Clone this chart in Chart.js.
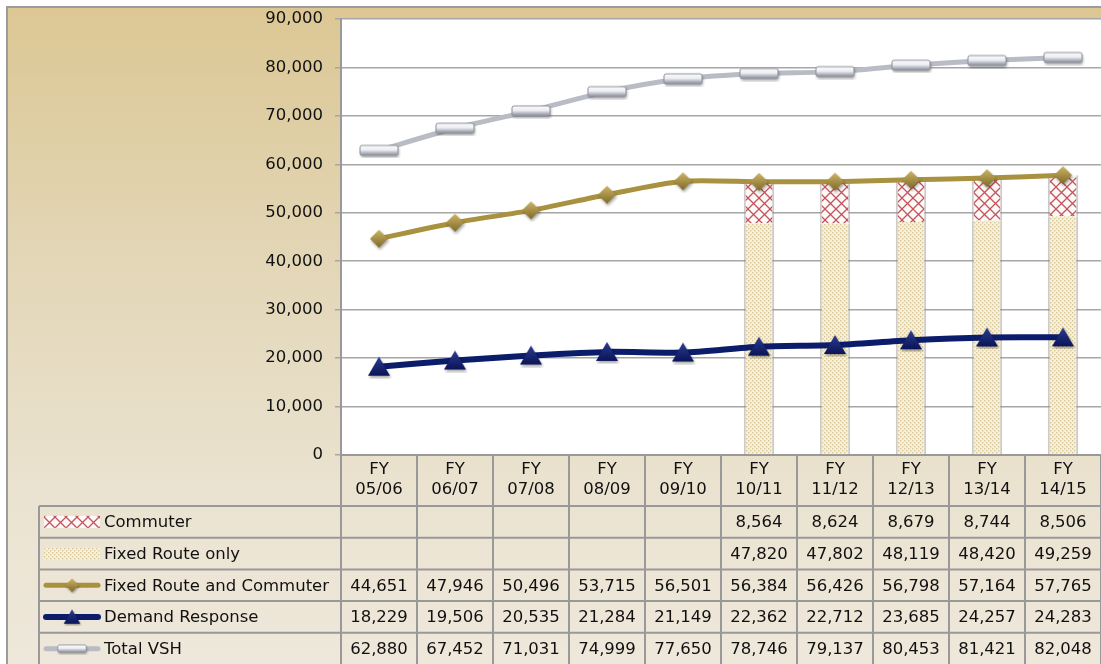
<!DOCTYPE html>
<html>
<head>
<meta charset="utf-8">
<title>Vehicle Service Hours</title>
<script src="https://cdn.jsdelivr.net/npm/chart.js@4.4.1/dist/chart.umd.min.js"></script>
<style>
  html, body { margin: 0; padding: 0; background: #fff; }
  #wrap { position: relative; width: 1101px; height: 664px; }
</style>
</head>
<body>
<div id="wrap"><canvas id="vshChart"></canvas></div>
<script>
const fiscalYears = [
  ["FY", "05/06"], ["FY", "06/07"], ["FY", "07/08"], ["FY", "08/09"], ["FY", "09/10"],
  ["FY", "10/11"], ["FY", "11/12"], ["FY", "12/13"], ["FY", "13/14"], ["FY", "14/15"]
];
const commuter = [null, null, null, null, null, 8564, 8624, 8679, 8744, 8506];
const fixedRouteOnly = [null, null, null, null, null, 47820, 47802, 48119, 48420, 49259];
const fixedRouteAndCommuter = [44651, 47946, 50496, 53715, 56501, 56384, 56426, 56798, 57164, 57765];
const demandResponse = [18229, 19506, 20535, 21284, 21149, 22362, 22712, 23685, 24257, 24283];
const totalVsh = [62880, 67452, 71031, 74999, 77650, 78746, 79137, 80453, 81421, 82048];
const yTickValues = [0, 10000, 20000, 30000, 40000, 50000, 60000, 70000, 80000, 90000];

const FONT = '"DejaVu Sans", sans-serif';
const FONT_SIZE = 16.5;
const fmt = v => v.toLocaleString("en-US");

// --- fill patterns for the stacked bars ---
function makeTile(w, h, paint) {
  const c = document.createElement("canvas");
  c.width = w; c.height = h;
  paint(c.getContext("2d"));
  return c;
}
const ctxMain = document.getElementById("vshChart").getContext("2d");

const hatchPattern = ctxMain.createPattern(makeTile(11, 11, g => {
  g.fillStyle = "#fdf9f9";
  g.fillRect(0, 0, 11, 11);
  g.strokeStyle = "#c2545a";
  g.lineWidth = 1.3;
  g.beginPath();
  g.moveTo(0, 0); g.lineTo(11, 11);
  g.moveTo(11, 0); g.lineTo(0, 11);
  g.stroke();
}), "repeat");

const dotPattern = ctxMain.createPattern(makeTile(4, 4, g => {
  g.fillStyle = "#f6f0de";
  g.fillRect(0, 0, 4, 4);
  g.fillStyle = "#d8c795";
  g.fillRect(0, 0, 1.4, 1.4);
  g.fillRect(2, 2, 1.4, 1.4);
}), "repeat");

// --- marker images for the lines ---
function shadowed(g) {
  g.shadowColor = "rgba(0,0,0,0.35)";
  g.shadowBlur = 3;
  g.shadowOffsetX = 1;
  g.shadowOffsetY = 2;
}
const dashMarker = makeTile(44, 16, g => {
  shadowed(g);
  const gr = g.createLinearGradient(0, 2, 0, 12);
  gr.addColorStop(0, "#ffffff");
  gr.addColorStop(0.55, "#eceef2");
  gr.addColorStop(1, "#959aa5");
  g.fillStyle = gr;
  g.beginPath();
  g.roundRect(3, 3, 38, 10, 2);
  g.fill();
  g.shadowColor = "transparent";
  g.strokeStyle = "#8e929b";
  g.lineWidth = 1;
  g.stroke();
});
const diamondMarker = makeTile(24, 24, g => {
  shadowed(g);
  const gr = g.createLinearGradient(0, 3, 0, 21);
  gr.addColorStop(0, "#cdb566");
  gr.addColorStop(1, "#7f6a28");
  g.fillStyle = gr;
  g.beginPath();
  g.moveTo(12, 3); g.lineTo(21, 12); g.lineTo(12, 21); g.lineTo(3, 12);
  g.closePath();
  g.fill();
});
const triangleMarker = makeTile(26, 24, g => {
  shadowed(g);
  const gr = g.createLinearGradient(0, 2, 0, 21);
  gr.addColorStop(0, "#2c3d8f");
  gr.addColorStop(1, "#0a1458");
  g.fillStyle = gr;
  g.beginPath();
  g.moveTo(13, 2); g.lineTo(24, 21); g.lineTo(2, 21);
  g.closePath();
  g.fill();
});

const tableRows = [
  { label: "Commuter", values: commuter, fill: hatchPattern },
  { label: "Fixed Route only", values: fixedRouteOnly, fill: dotPattern },
  { label: "Fixed Route and Commuter", values: fixedRouteAndCommuter, line: "#a8913f", width: 5, marker: diamondMarker },
  { label: "Demand Response", values: demandResponse, line: "#0b1c6b", width: 6, marker: triangleMarker },
  { label: "Total VSH", values: totalVsh, line: "#b9bcc5", width: 5, marker: dashMarker }
];

// panel background, frame and white plot area
const panelBackground = {
  id: "panelBackground",
  beforeDraw(chart) {
    const { ctx, width, height, chartArea } = chart;
    ctx.save();
    ctx.fillStyle = "#fff";
    ctx.fillRect(0, 0, width, height);
    const gr = ctx.createLinearGradient(0, 8, 0, height);
    gr.addColorStop(0, "#dcc794");
    gr.addColorStop(0.4, "#e3d7b8");
    gr.addColorStop(0.75, "#ebe3d1");
    gr.addColorStop(1, "#eee8db");
    ctx.fillStyle = gr;
    ctx.fillRect(8, 8, width - 8, height - 8);
    ctx.strokeStyle = "#9c9c9c";
    ctx.lineWidth = 2;
    ctx.beginPath();
    ctx.moveTo(7, height);
    ctx.lineTo(7, 7);
    ctx.lineTo(width, 7);
    ctx.stroke();
    ctx.fillStyle = "#fff";
    ctx.fillRect(chartArea.left, chartArea.top, chartArea.right - chartArea.left, chartArea.bottom - chartArea.top);
    ctx.restore();
  }
};

// data table under the x axis, with legend keys in the first column
const dataTable = {
  id: "dataTable",
  afterDraw(chart) {
    const { ctx, width, height, chartArea } = chart;
    const colW = (chartArea.right - chartArea.left) / fiscalYears.length;
    const headerBottom = chartArea.bottom + 51;
    const rowH = (height + 0.5 - headerBottom) / tableRows.length;
    const legendLeft = 39;

    ctx.save();
    ctx.strokeStyle = "#999";
    ctx.lineWidth = 2;
    ctx.beginPath();
    for (let r = 0; r < tableRows.length; r++) {
      const y = headerBottom + r * rowH;
      ctx.moveTo(legendLeft, y);
      ctx.lineTo(width, y);
    }
    ctx.moveTo(legendLeft, headerBottom);
    ctx.lineTo(legendLeft, height);
    for (let i = 0; i <= fiscalYears.length; i++) {
      const x = chartArea.left + i * colW;
      ctx.moveTo(x, chartArea.bottom);
      ctx.lineTo(x, height);
    }
    ctx.stroke();

    ctx.font = FONT_SIZE + "px " + FONT;
    ctx.fillStyle = "#111";
    ctx.textBaseline = "middle";
    tableRows.forEach((row, r) => {
      const cy = headerBottom + (r + 0.5) * rowH;
      // legend key
      if (row.fill) {
        ctx.fillStyle = row.fill;
        ctx.fillRect(44, cy - 6, 56, 12);
      } else {
        ctx.strokeStyle = row.line;
        ctx.lineWidth = row.width;
        ctx.lineCap = "round";
        ctx.beginPath();
        ctx.moveTo(46, cy);
        ctx.lineTo(98, cy);
        ctx.stroke();
        const s = 0.75;
        const mw = row.marker.width * s, mh = row.marker.height * s;
        ctx.drawImage(row.marker, 72 - mw / 2, cy - mh / 2, mw, mh);
      }
      ctx.fillStyle = "#111";
      ctx.textAlign = "left";
      ctx.fillText(row.label, 104, cy + 1);
      ctx.textAlign = "center";
      row.values.forEach((v, i) => {
        if (v == null) return;
        ctx.fillText(fmt(v), chartArea.left + (i + 0.5) * colW, cy + 1);
      });
    });
    ctx.restore();
  }
};

function lineSet(label, data, color, width, marker, order) {
  return {
    type: "line",
    label,
    data,
    borderColor: color,
    backgroundColor: color,
    borderWidth: width,
    tension: 0.25,
    pointStyle: marker,
    pointRadius: 10,
    order,
    stack: label
  };
}

new Chart(ctxMain, {
  type: "bar",
  data: {
    labels: fiscalYears,
    datasets: [
      {
        label: "Fixed Route only",
        data: fixedRouteOnly,
        backgroundColor: dotPattern,
        borderColor: "rgba(140,140,140,0.45)",
        borderWidth: { left: 2, right: 2, top: 0, bottom: 0 },
        borderSkipped: false,
        categoryPercentage: 1,
        barPercentage: 0.4,
        stack: "vsh",
        order: 10
      },
      {
        label: "Commuter",
        data: commuter,
        backgroundColor: hatchPattern,
        borderColor: "rgba(140,140,140,0.45)",
        borderWidth: { left: 2, right: 2, top: 0, bottom: 0 },
        borderSkipped: false,
        categoryPercentage: 1,
        barPercentage: 0.4,
        stack: "vsh",
        order: 10
      },
      lineSet("Total VSH", totalVsh, "#b9bcc5", 5, dashMarker, 3),
      lineSet("Fixed Route and Commuter", fixedRouteAndCommuter, "#a8913f", 5, diamondMarker, 2),
      lineSet("Demand Response", demandResponse, "#0b1c6b", 6, triangleMarker, 1)
    ]
  },
  options: {
    responsive: true,
    maintainAspectRatio: false,
    animation: false,
    layout: { autoPadding: false, padding: { top: 19, left: 0, right: 0, bottom: 0 } },
    plugins: {
      legend: { display: false },
      tooltip: { enabled: false }
    },
    scales: {
      x: {
        stacked: true,
        grid: { display: false, drawTicks: false },
        border: { display: true, color: "#999", width: 2 },
        ticks: {
          color: "#111",
          padding: 5,
          maxRotation: 0,
          autoSkip: false,
          font: { family: FONT, size: FONT_SIZE, lineHeight: 1.22 }
        },
        afterFit(scale) {
          scale.height = 209;
          scale.paddingLeft = 0;
          scale.paddingRight = 0;
        }
      },
      y: {
        stacked: true,
        min: 0,
        max: 90000,
        afterBuildTicks(scale) {
          scale.ticks = yTickValues.map(value => ({ value }));
        },
        grid: { color: "#a6a6a6", lineWidth: 1.5, tickLength: 6 },
        border: { display: true, color: "#999", width: 2 },
        ticks: {
          color: "#111",
          padding: 12,
          font: { family: FONT, size: FONT_SIZE },
          callback: v => fmt(v)
        },
        afterFit(scale) {
          scale.width = 341;
          scale.paddingTop = 0;
          scale.paddingBottom = 0;
        }
      }
    }
  },
  plugins: [panelBackground, dataTable]
});
</script>
</body>
</html>
